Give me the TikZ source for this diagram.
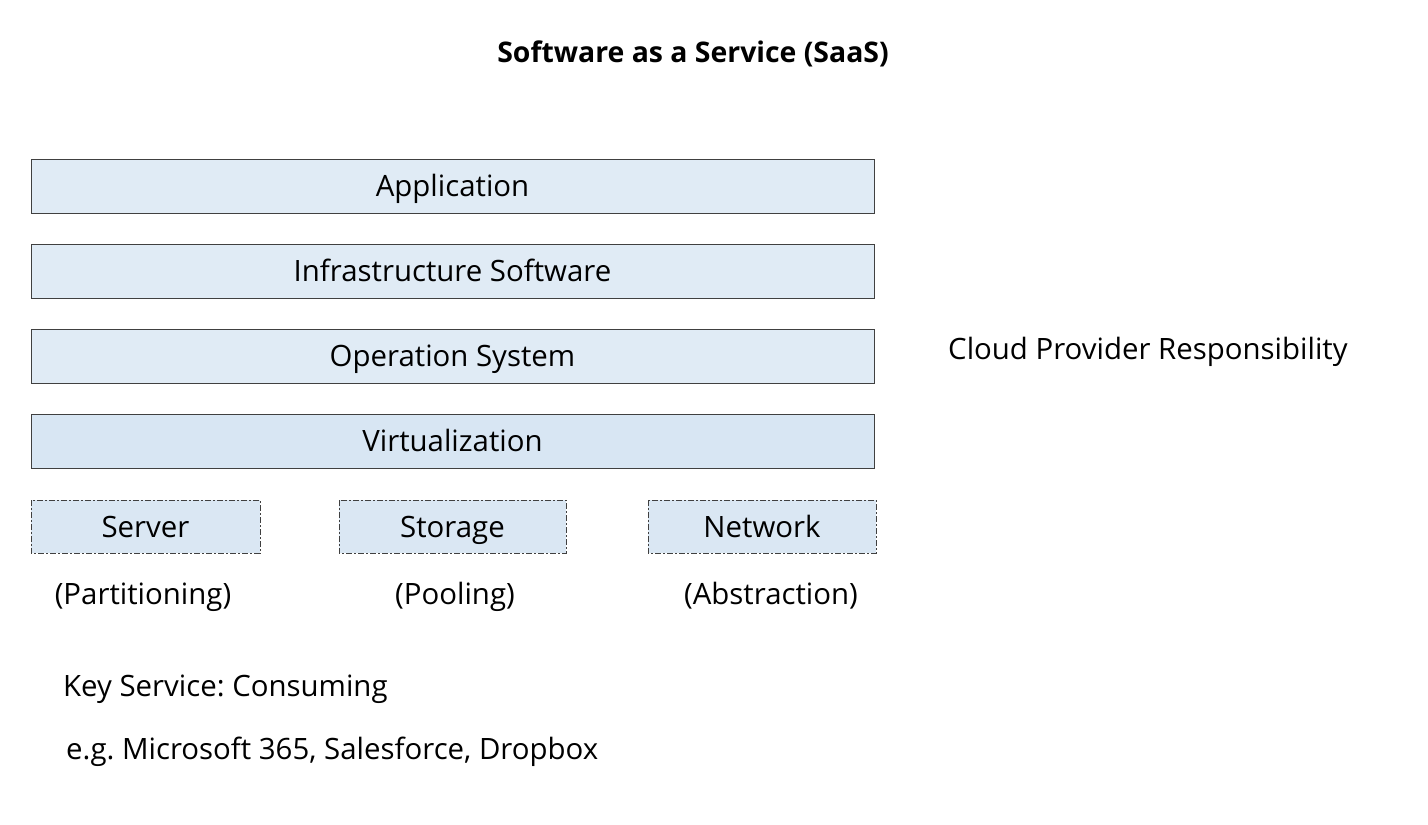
\documentclass[tikz,border=0pt]{standalone}
\usepackage{fontspec}
\setmainfont{Open Sans}
\frenchspacing
\begin{document}
\begin{tikzpicture}[x=1bp,y=-1bp,
  layer/.style={draw=black!75, line width=0.8bp, fill={rgb,255:red,224;green,235;blue,245}, inner sep=0pt},
  hw/.style={layer, dash pattern=on 6bp off 2bp on 2bp off 2bp, fill={rgb,255:red,218;green,231;blue,243}},
  lbl/.style={font=\fontsize{29.5}{34}\selectfont, text=black, inner sep=0pt, text height=21bp, text depth=0pt}]
\useasboundingbox (0,0) rectangle (1428,824);
\fill[white] (0,0) rectangle (1428,824);
\node[lbl, font=\fontsize{28.5}{34}\selectfont\bfseries, text height=20.4bp] (title) at (693,52) {Software as a Service (SaaS)};
\draw[layer] (31,159) rectangle (874,213) node[midway, lbl] (app) {Application};
\draw[layer] (31,244) rectangle (874,298) node[midway, lbl] (infra) {Infrastructure Software};
\draw[layer] (31,329) rectangle (874,383) node[midway, lbl] (os) {Operation System};
\draw[layer, fill={rgb,255:red,216;green,230;blue,243}] (31,414) rectangle (874,468) node[midway, lbl] (virt) {Virtualization};
\draw[hw] (31,500) rectangle (260,553) node[midway, lbl] (server) {Server};
\draw[hw] (339,500) rectangle (566,553) node[midway, lbl] (storage) {Storage};
\draw[hw] (648,500) rectangle (876,553) node[midway, lbl] (network) {Network};
\node[lbl] (p1) at (143,594) {(Partitioning)};
\node[lbl] (p2) at (455,594) {(Pooling)};
\node[lbl] (p3) at (771,594) {(Abstraction)};
\node[lbl, anchor=west] (cloud) at (948,349) {Cloud Provider Responsibility};
\node[lbl, anchor=west] (key) at (63,686) {Key Service: Consuming};
\node[lbl, anchor=west] (eg) at (66,749) {e.g. Microsoft 365, Salesforce, Dropbox};
\end{tikzpicture}
\end{document}
